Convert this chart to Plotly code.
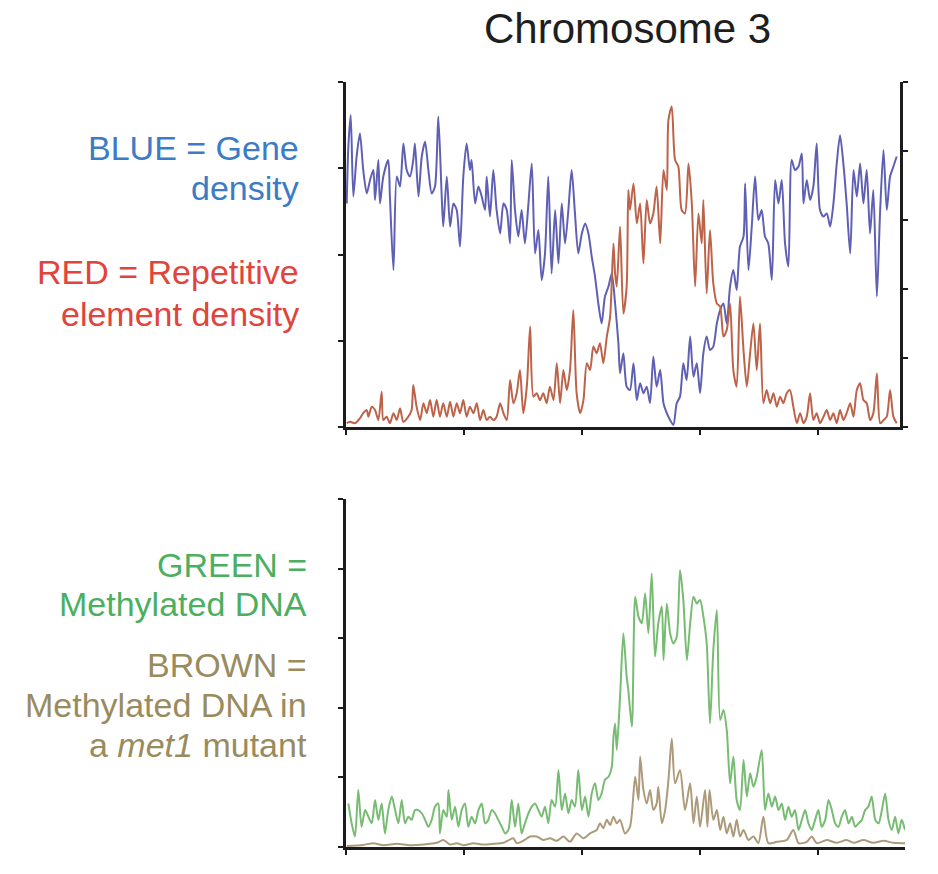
import plotly.graph_objects as go

# ---------------- Top panel: gene density (blue) & repetitive elements (red) ----------------
gene_x = [0.03, 0.10, 0.20, 0.31, 0.45, 0.59, 0.73, 0.88, 1.02, 1.16, 1.23, 1.37, 1.44, 1.58, 1.79, 1.86,
          2.01, 2.15, 2.29, 2.43, 2.57, 2.71, 2.85, 2.92, 3.07, 3.21, 3.35, 3.49, 3.63, 3.77, 3.91, 4.05,
          4.12, 4.27, 4.41, 4.55, 4.69, 4.83, 4.97, 5.11, 5.25, 5.32, 5.47, 5.61, 5.75, 5.89, 5.96, 6.10,
          6.24, 6.38, 6.53, 6.67, 6.81, 6.95, 7.02, 7.16, 7.30, 7.44, 7.58, 7.73, 7.87, 8.01, 8.15, 8.29,
          8.43, 8.57, 8.71, 8.86, 9.00, 9.14, 9.28, 9.42, 9.56, 9.70, 9.84, 9.99, 10.13, 10.27, 10.41,
          10.55, 10.69, 10.83, 10.97, 11.12, 11.26, 11.40, 11.54, 11.61, 11.75, 11.89,
          12.03, 12.18, 12.32, 12.46, 12.60, 12.74, 12.88, 13.02, 13.16, 13.31, 13.45, 13.59, 13.73,
          13.87, 14.01, 14.15, 14.29, 14.43, 14.58, 14.72, 14.86, 15.00, 15.14, 15.28, 15.42, 15.56,
          15.71, 15.85, 15.99, 16.13, 16.27, 16.41, 16.55, 16.69, 16.84, 16.91, 17.05, 17.19, 17.33,
          17.47, 17.61, 17.75, 17.89, 18.04, 18.18, 18.32, 18.46, 18.60, 18.74, 18.88, 19.02, 19.17,
          19.31, 19.38, 19.52, 19.66, 19.80, 19.94, 20.08, 20.23, 20.37, 20.51, 20.65, 20.79, 20.93,
          21.07, 21.21, 21.36, 21.50, 21.64, 21.78, 21.92, 22.06, 22.20, 22.34, 22.49, 22.63, 22.77,
          22.91, 23.05, 23.19, 23.33]
gene_density = [64.8, 81.3, 90.4, 66.8, 78.4, 85.1, 74.5, 67.7, 71.6, 74.5, 65.8, 77.4, 64.8, 72.6, 77.4, 66.8,
                45.5, 72.6, 69.7, 82.2, 74.5, 72.6, 77.4, 82.2, 66.8, 78.4, 82.7, 74.5, 67.7, 69.7, 90.0, 67.7,
                58.1, 72.6, 58.1, 64.8, 62.9, 52.3, 72.6, 82.2, 74.5, 77.4, 64.8, 69.7, 66.8, 62.9, 72.6, 61.0,
                74.5, 62.9, 56.1, 64.8, 62.9, 53.2, 77.4, 62.9, 55.2, 62.9, 53.2, 64.8, 76.4, 50.3, 57.1, 42.6,
                50.3, 72.6, 44.5, 62.9, 47.4, 64.8, 53.2, 62.9, 74.5, 61.9, 50.3, 56.1, 59.0, 56.1, 49.4,
                43.6, 35.8, 30.0, 37.8, 40.7, 44.5, 35.8, 24.3, 15.6, 21.4, 11.7,
                10.7, 18.5, 7.8, 12.7, 9.8, 11.7, 6.9, 20.4, 11.7, 16.5, 6.9, 4.0, 2.0,
                0.6, 6.9, 8.8, 18.5, 13.6, 26.2, 14.6, 18.5, 9.8, 21.4, 26.2, 22.3, 23.3,
                30.0, 33.9, 35.8, 30.0, 40.7, 45.5, 39.7, 52.3, 55.2, 70.6, 45.5, 58.1, 72.6,
                60.0, 62.9, 55.2, 53.2, 42.6, 71.6, 64.8, 71.6, 53.2, 46.5, 77.4, 74.5, 75.5,
                79.3, 64.8, 71.6, 65.8, 69.7, 82.2, 62.9, 61.0, 61.9, 58.1, 64.8, 76.4, 84.6,
                76.4, 64.8, 50.3, 74.5, 66.8, 76.4, 64.8, 74.5, 56.1, 68.7, 37.8, 62.9, 80.3,
                62.9, 72.6, 75.5, 78.4]

rep_x = [0.03, 0.17, 0.38, 0.59, 0.73, 0.88, 0.95, 1.09, 1.23, 1.37, 1.51, 1.58, 1.72, 1.86, 2.01, 2.15,
         2.29, 2.43, 2.64, 2.78, 2.85, 2.99, 3.14, 3.28, 3.42, 3.56, 3.70, 3.84, 3.98, 4.12, 4.27, 4.41,
         4.55, 4.69, 4.83, 4.97, 5.11, 5.25, 5.40, 5.54, 5.68, 5.82, 5.96, 6.10, 6.24, 6.38, 6.53, 6.67,
         6.81, 6.95, 7.09, 7.23, 7.37, 7.51, 7.66, 7.80, 7.94, 8.08, 8.22, 8.36, 8.50, 8.64, 8.79, 8.93,
         9.07, 9.21, 9.35, 9.49, 9.63, 9.77, 9.92, 10.06, 10.20, 10.34, 10.48, 10.62, 10.76, 10.90,
         11.05, 11.19, 11.33, 11.40, 11.47, 11.61, 11.75, 11.89, 11.96,
         12.03, 12.18, 12.32, 12.46, 12.60, 12.74, 12.88, 13.02, 13.16, 13.31, 13.45, 13.59, 13.66,
         13.80, 13.94, 14.08, 14.22, 14.36, 14.51, 14.65, 14.79, 14.93, 15.07, 15.14, 15.28, 15.42,
         15.56, 15.71, 15.85, 15.99, 16.13, 16.27, 16.41, 16.55, 16.69, 16.84, 16.98, 17.12, 17.26,
         17.40, 17.54, 17.68, 17.82, 17.97, 18.11, 18.25, 18.39, 18.53, 18.67, 18.81, 18.95, 19.10,
         19.24, 19.38, 19.52, 19.66, 19.80, 19.94, 20.08, 20.23, 20.37, 20.51, 20.65, 20.79, 20.93,
         21.07, 21.21, 21.36, 21.50, 21.64, 21.78, 21.92, 22.06, 22.20, 22.34, 22.49, 22.63, 22.77,
         22.91, 23.05, 23.19, 23.33]
rep_density = [1.1, 1.5, 1.1, 2.5, 4.0, 4.9, 3.0, 5.9, 4.9, 2.0, 10.2, 2.0, 3.0, 1.1, 4.0, 2.0,
               5.4, 1.5, 3.0, 4.9, 12.2, 5.9, 2.0, 6.9, 4.0, 7.8, 3.0, 7.8, 3.0, 6.9, 3.0, 7.3,
               3.0, 6.9, 4.0, 7.8, 3.0, 5.9, 4.0, 6.9, 2.0, 4.9, 2.0, 3.0, 2.0, 3.0, 6.9, 4.0,
               2.0, 13.6, 6.9, 9.8, 16.5, 4.0, 11.7, 29.1, 8.8, 9.8, 7.8, 9.8, 6.9, 11.7, 7.8, 18.5,
               6.9, 16.5, 10.7, 16.5, 33.9, 9.8, 4.0, 7.8, 18.5, 16.5, 23.3, 21.4, 24.3, 18.5,
               26.2, 32.0, 53.2, 44.5, 40.7, 58.1, 32.9, 40.7, 68.7,
               62.9, 70.6, 59.0, 64.8, 47.4, 65.8, 59.0, 61.9, 69.7, 53.2, 74.5, 68.7, 89.0,
               92.9, 77.4, 75.5, 62.9, 61.9, 76.4, 64.8, 40.7, 61.9, 53.2, 65.8, 38.7, 57.1,
               41.6, 35.8, 34.9, 26.2, 28.1, 35.8, 16.5, 11.7, 37.8, 22.3, 11.7, 21.4, 30.0,
               16.5, 30.0, 6.9, 10.7, 6.9, 9.8, 5.9, 8.8, 6.9, 9.8, 10.7, 5.9, 1.1,
               4.0, 1.1, 3.0, 9.8, 2.0, 4.0, 1.1, 3.0, 4.9, 2.0, 4.0, 1.1, 4.9,
               2.0, 4.0, 6.9, 3.0, 10.7, 12.7, 7.8, 6.9, 2.0, 4.0, 15.5, 1.1, 2.0,
               3.0, 10.7, 3.0, 1.1]

# ---------------- Bottom panel: methylation (green) & met1 mutant (brown) ----------------
meth_x = [0.10, 0.24, 0.38, 0.52, 0.66, 0.81, 0.95, 1.09, 1.23, 1.37, 1.51, 1.65, 1.79, 1.94, 2.08, 2.22,
          2.36, 2.50, 2.64, 2.78, 2.92, 3.06, 3.21, 3.35, 3.49, 3.63, 3.77, 3.91, 3.98, 4.12, 4.27, 4.34,
          4.48, 4.62, 4.76, 4.90, 5.04, 5.18, 5.32, 5.47, 5.61, 5.75, 5.89, 6.03, 6.17, 6.31, 6.45, 6.60,
          6.74, 6.88, 7.02, 7.16, 7.30, 7.44, 7.58, 7.73, 7.87, 8.01, 8.15, 8.29, 8.43, 8.57, 8.71, 8.86,
          9.00, 9.14, 9.28, 9.42, 9.56, 9.70, 9.84, 9.99, 10.13, 10.27, 10.41, 10.55, 10.69, 10.83, 10.97,
          11.12, 11.26, 11.33, 11.40, 11.47, 11.61,
          11.75, 11.89, 11.96, 12.11, 12.25, 12.39, 12.53, 12.67, 12.81, 12.95, 13.09, 13.23, 13.38,
          13.45, 13.59, 13.73, 13.87, 14.01, 14.15, 14.29, 14.44, 14.58, 14.72, 14.86, 15.00, 15.14,
          15.28, 15.42, 15.56, 15.71, 15.85, 15.99, 16.13, 16.27, 16.41, 16.55, 16.69, 16.84, 16.98,
          17.12, 17.26, 17.40, 17.61, 17.75, 17.89, 18.04, 18.18, 18.32, 18.46, 18.60, 18.74, 18.88,
          19.02, 19.17, 19.31, 19.45, 19.59, 19.73, 19.87, 20.01, 20.15, 20.30, 20.44, 20.58, 20.72,
          20.86, 21.00, 21.14, 21.29, 21.43, 21.57, 21.71, 21.85, 21.99, 22.13, 22.27, 22.42, 22.56,
          22.70, 22.84, 22.98, 23.12, 23.26, 23.40, 23.54, 23.68]
meth_wt = [12.5, 6.8, 3.0, 16.4, 5.8, 10.6, 8.7, 6.8, 13.5, 7.8, 12.5, 3.9, 10.6, 14.5, 10.6, 6.8,
           13.5, 6.8, 8.7, 7.8, 10.6, 10.6, 9.7, 7.8, 5.8, 7.8, 11.6, 12.5, 3.9, 10.6, 8.7, 16.4,
           7.8, 11.6, 5.8, 10.6, 12.5, 5.8, 8.7, 6.8, 10.6, 12.5, 6.8, 7.8, 10.6, 9.7, 7.8, 5.8,
           3.9, 4.9, 13.5, 5.8, 12.5, 3.9, 6.8, 9.7, 11.6, 12.5, 10.6, 8.7, 11.6, 6.8, 13.5, 11.6,
           22.1, 10.6, 15.4, 9.7, 13.5, 11.6, 22.1, 10.6, 14.5, 8.7, 15.4, 18.3, 13.5, 15.4, 19.3,
           20.2, 23.1, 31.7, 35.5, 27.9, 43.2,
           61.4, 48.9, 45.1, 34.6, 71.9, 66.2, 64.3, 72.9, 61.4, 78.6, 54.7, 64.3, 69.1,
           53.7, 70.0, 61.4, 58.5, 60.4, 79.6, 71.0, 53.7, 64.3, 71.9, 70.0, 71.0, 66.2,
           58.5, 35.5, 56.6, 68.1, 36.5, 39.4, 33.6, 18.3, 26.0, 13.5, 10.6, 25.0, 14.5,
           21.2, 17.3, 20.2, 27.9, 10.6, 15.4, 11.6, 14.5, 10.6, 12.5, 7.8, 11.6, 8.7,
           10.6, 4.9, 7.8, 10.6, 6.8, 4.9, 7.8, 10.6, 5.8, 7.8, 13.5, 10.6, 6.8,
           5.8, 8.7, 10.6, 6.8, 8.7, 5.8, 6.8, 7.8, 10.6, 11.6, 14.5, 7.8, 6.8,
           10.6, 15.4, 7.8, 4.9, 8.7, 3.9, 7.8, 4.9]

met1_x = [0.03, 0.73, 1.16, 1.58, 2.15, 2.71, 3.28, 3.84, 4.12, 4.41, 4.69, 4.97, 5.40, 5.82, 6.24, 6.67,
          7.09, 7.23, 7.51, 7.80, 8.08, 8.36, 8.64, 8.93, 9.21, 9.49, 9.77, 10.06, 10.34, 10.62, 10.76,
          10.90, 11.05, 11.19, 11.33, 11.47, 11.61,
          11.82, 12.03, 12.25, 12.39, 12.46, 12.60, 12.74, 12.88, 13.02, 13.16, 13.23, 13.38, 13.52,
          13.66, 13.80, 13.94, 14.15, 14.36, 14.58, 14.72, 14.86, 15.00, 15.21, 15.31, 15.40, 15.56,
          15.71, 15.85, 15.99, 16.13, 16.27, 16.41, 16.55, 16.69, 16.84, 17.05, 17.26, 17.47, 17.68,
          17.89, 18.25, 18.67, 18.95, 19.17, 19.52, 19.73, 19.94, 20.37, 20.79, 21.21, 21.50, 21.92,
          22.34, 22.77, 23.19, 23.68]
meth_met1 = [0.3, 0.6, 1.1, 0.5, 0.9, 0.5, 0.7, 1.2, 2.0, 0.7, 1.1, 0.5, 1.1, 0.7, 0.9, 1.2,
             2.5, 1.1, 1.8, 3.0, 3.0, 2.0, 2.5, 1.8, 3.0, 1.5, 3.9, 2.5, 3.9, 4.9, 6.8,
             5.4, 7.8, 6.3, 8.7, 6.8, 7.8,
             3.9, 5.8, 20.2, 13.5, 26.0, 16.4, 12.5, 16.4, 10.6, 12.5, 17.3, 6.8, 10.6,
             19.3, 31.2, 18.3, 22.1, 10.6, 18.3, 6.8, 14.5, 5.8, 16.4, 5.8, 16.4, 7.8,
             10.6, 4.9, 8.7, 3.9, 6.8, 3.0, 7.8, 3.0, 4.9, 2.0, 3.0, 1.1, 8.7,
             1.1, 1.5, 2.0, 4.9, 1.1, 1.5, 3.0, 1.1, 2.0, 1.2, 2.0, 1.2, 2.0,
             1.2, 1.8, 1.2, 1.1]

# ---------------- Text ----------------
title_text = "Chromosome 3"
label_blue = ["BLUE = Gene", "density"]
label_red = ["RED = Repetitive", "element density"]
label_green = ["GREEN =", "Methylated DNA"]
label_brown = ["BROWN =", "Methylated DNA in", "a <i>met1</i> mutant"]

W, H = 938, 874
FONT = "Liberation Sans, Arial, sans-serif"
AXC = "#1c1c1c"

fig = go.Figure()
line_common = dict(width=2, shape="spline", smoothing=0.7)
fig.add_trace(go.Scatter(x=gene_x, y=gene_density, mode="lines", xaxis="x", yaxis="y",
                         line=dict(line_common, color="#5f60b4"), hoverinfo="skip"))
fig.add_trace(go.Scatter(x=rep_x, y=rep_density, mode="lines", xaxis="x", yaxis="y2",
                         line=dict(line_common, color="#bd634a"), hoverinfo="skip"))
fig.add_trace(go.Scatter(x=meth_x, y=meth_wt, mode="lines", xaxis="x2", yaxis="y3",
                         line=dict(line_common, color="#78bc73"), hoverinfo="skip"))
fig.add_trace(go.Scatter(x=met1_x, y=meth_met1, mode="lines", xaxis="x2", yaxis="y3",
                         line=dict(line_common, color="#ad9a7a"), hoverinfo="skip"))

def px(v):
    return v / W

def py(v):
    return 1 - v / H

common_axis = dict(showgrid=False, zeroline=False, showticklabels=False, showline=True,
                   linecolor=AXC, linewidth=2.5, ticks="outside", tickcolor=AXC,
                   tickwidth=2, ticklen=5, fixedrange=True)

fig.update_layout(
    width=W, height=H,
    margin=dict(l=0, r=0, t=0, b=0),
    paper_bgcolor="white", plot_bgcolor="white",
    showlegend=False,
    xaxis=dict(common_axis, domain=[px(346), px(900)], range=[0, 23.47], tick0=0, dtick=5,
               anchor="y"),
    yaxis=dict(common_axis, domain=[py(427), py(82)], range=[0, 100], tick0=0, dtick=25,
               anchor="x"),
    yaxis2=dict(common_axis, domain=[py(427), py(82)], range=[0, 100], tick0=0, dtick=20,
                overlaying="y", side="right", anchor="x"),
    xaxis2=dict(common_axis, domain=[px(346), px(905)], range=[0, 23.68], tick0=0, dtick=5,
                anchor="y3"),
    yaxis3=dict(common_axis, domain=[py(847), py(499)], range=[0, 100], tick0=0, dtick=20,
                anchor="x2"),
)

ann = [dict(text=title_text, x=px(627), y=py(28), xanchor="center",
            font=dict(size=42, color="#1e1e1e"))]

def add_block(lines, right_x, centers, color):
    for t, cy in zip(lines, centers):
        ann.append(dict(text=t, x=px(right_x), y=py(cy), xanchor="right", align="right",
                        font=dict(size=34, color=color)))

add_block(label_blue, 301, [148, 188], "#3c7cc6")
add_block(label_red, 301, [272, 314], "#e0443b")
add_block(label_green, 309, [565, 604], "#4caf5f")
add_block(label_brown, 309, [665, 705, 745], "#998b5e")

for a in ann:
    a.update(xref="paper", yref="paper", yanchor="middle", showarrow=False)
    a["font"]["family"] = FONT
fig.update_layout(annotations=ann)

fig.write_html("out.html", config={"displayModeBar": False})
